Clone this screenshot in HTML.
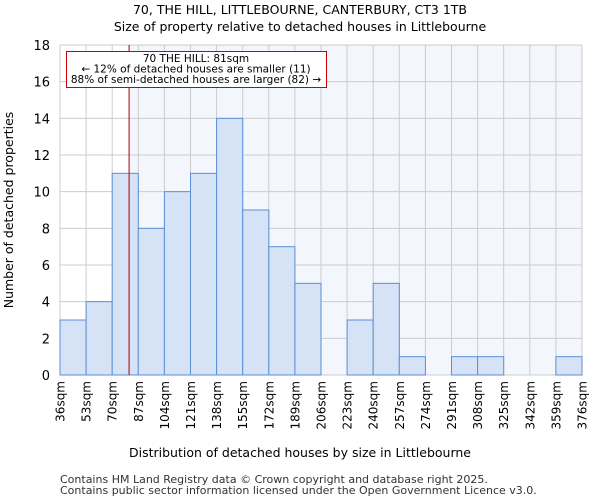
<!DOCTYPE html>
<html><head><meta charset="utf-8"><style>
body{margin:0;background:#fff;font-family:"DejaVu Sans","Liberation Sans",sans-serif;}
</style></head><body>
<svg id="c" width="600" height="500" xmlns="http://www.w3.org/2000/svg" font-family="DejaVu Sans, Liberation Sans, sans-serif">
<text x="300" y="14" text-anchor="middle" font-size="12.5">70, THE HILL, LITTLEBOURNE, CANTERBURY, CT3 1TB</text>
<text x="300" y="31" text-anchor="middle" font-size="12.5">Size of property relative to detached houses in Littlebourne</text>
<g id="plot"></g>
<text x="300" y="457" text-anchor="middle" font-size="12.5">Distribution of detached houses by size in Littlebourne</text>
<text transform="translate(13,210) rotate(-90)" text-anchor="middle" font-size="12.5">Number of detached properties</text>
<text x="60" y="483" font-size="11" fill="#333">Contains HM Land Registry data © Crown copyright and database right 2025.</text>
<text x="60" y="494" font-size="11" fill="#333">Contains public sector information licensed under the Open Government Licence v3.0.</text>
</svg>
<script>
const binEdges=[36,53,70,87,104,121,138,155,172,189,206,223,240,257,274,291,308,325,342,359,376];
const counts=[3,4,11,8,10,11,14,9,7,5,0,3,5,1,0,1,1,0,0,1];
const yTicks=[0,2,4,6,8,10,12,14,16,18];
const propertySize=81;
const NS="http://www.w3.org/2000/svg";
const L=60,R=582,T=45,B=375;
const xs=v=>L+(v-36)/(376-36)*(R-L);
const ys=v=>B-v/18*(B-T);
const g=document.getElementById('plot');
function mk(t,a){const e=document.createElementNS(NS,t);for(const k in a)e.setAttribute(k,a[k]);g.appendChild(e);return e;}
let e=mk('rect',{x:L,y:T,width:R-L,height:B-T,fill:'#fff'});


e=mk('rect',{x:xs(propertySize),y:T,width:R-xs(propertySize),height:B-T,fill:'#f3f6fd'});


binEdges.forEach(v=>{e=mk('line',{x1:xs(v),x2:xs(v),y1:T,y2:B,stroke:'#ccc','stroke-width':1});

});
yTicks.forEach(v=>{e=mk('line',{x1:L,x2:R,y1:ys(v),y2:ys(v),stroke:'#ccc','stroke-width':1});


const t=mk('text',{x:L-10,y:ys(v)+5,'text-anchor':'end','font-size':13});t.textContent=v;

});
counts.forEach((c,i)=>{if(!c)return;const x0=xs(binEdges[i]),x1=xs(binEdges[i+1]);
e=mk('rect',{x:x0,y:ys(c),width:x1-x0,height:B-ys(c),fill:'#d6e2f5',stroke:'#5b8fd6','stroke-width':1});

});
binEdges.forEach(v=>{const x=xs(v);const t=mk('text',{transform:`translate(${x+4.5},381) rotate(-90)`,'text-anchor':'end','font-size':12});t.textContent=v+'sqm';

});
e=mk('line',{x1:xs(propertySize),x2:xs(propertySize),y1:T,y2:B,stroke:'#a00','stroke-width':1});


e=mk('rect',{x:66.5,y:51.5,width:260,height:36,fill:'#fff',stroke:'#c00','stroke-width':1});


["70 THE HILL: 81sqm","← 12% of detached houses are smaller (11)","88% of semi-detached houses are larger (82) →"].forEach((s,i)=>{
const t=mk('text',{x:196,y:62+i*10.5,'text-anchor':'middle','font-size':10.5});t.textContent=s;

});
</script>
</body></html>
